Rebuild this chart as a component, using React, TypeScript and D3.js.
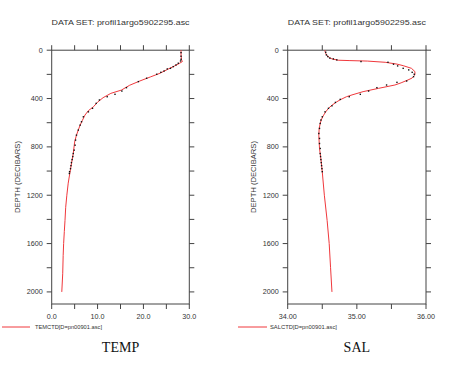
import React from "react";
import * as d3 from "d3";

// ---- data ----
const tempLineDepth = [0, 10, 40, 80, 94, 110, 136, 160, 191, 220, 255, 290, 330, 357, 393, 430, 468, 500, 537, 580, 620, 660, 703, 760, 855, 930, 1007, 1100, 1200, 1300, 1408, 1500, 1600, 1700, 1850, 2000];
const tempLineValue = [28.2, 28.2, 28.2, 28.3, 28.5, 27.8, 26.5, 25.2, 23.6, 21.6, 19.2, 17.0, 15.2, 12.9, 11.2, 10.0, 9.1, 8.0, 7.25, 6.7, 6.2, 5.8, 5.4, 5.0, 4.7, 4.35, 4.0, 3.6, 3.3, 3.05, 2.9, 2.75, 2.6, 2.5, 2.4, 2.2];
const tempObsDepth = [20, 50, 75, 89, 108, 122, 136, 150, 155, 172, 183, 199, 232, 260, 310, 338, 365, 385, 412, 440, 481, 510, 551, 592, 620, 661, 703, 744, 786, 827, 855, 880, 905, 930, 955, 980, 1005, 1020];
const tempObsValue = [28.2, 28.2, 28.2, 28.1, 27.6, 27.1, 26.5, 25.9, 25.2, 24.5, 23.8, 22.9, 20.7, 18.9, 16.3, 15.3, 13.8, 12.1, 10.4, 9.7, 8.9, 8.0, 6.9, 6.5, 6.2, 5.8, 5.4, 5.2, 5.1, 4.9, 4.7, 4.6, 4.45, 4.3, 4.2, 4.1, 3.9, 3.85];

const salLineDepth = [0, 12, 39, 60, 72, 83, 86, 90, 100, 115, 128, 150, 177, 200, 211, 230, 246, 270, 288, 316, 343, 370, 385, 410, 427, 455, 481, 510, 537, 570, 606, 650, 703, 760, 813, 900, 1007, 1200, 1408, 1600, 1800, 2000];
const salLineValue = [34.54, 34.54, 34.56, 34.6, 34.64, 34.73, 34.9, 35.15, 35.41, 35.58, 35.67, 35.79, 35.84, 35.84, 35.83, 35.8, 35.74, 35.64, 35.55, 35.31, 35.09, 34.93, 34.85, 34.76, 34.71, 34.64, 34.59, 34.55, 34.52, 34.49, 34.47, 34.455, 34.45, 34.455, 34.46, 34.48, 34.5, 34.53, 34.57, 34.6, 34.62, 34.64];
const salObsDepth = [17, 39, 53, 66, 72, 80, 94, 100, 116, 130, 150, 163, 183, 199, 219, 255, 266, 288, 310, 338, 365, 385, 407, 432, 460, 481, 510, 551, 578, 606, 647, 689, 730, 772, 813, 855, 880, 905, 930, 955, 980, 1005];
const salObsValue = [34.55, 34.56, 34.58, 34.61, 34.66, 34.71, 35.06, 35.45, 35.53, 35.59, 35.67, 35.75, 35.8, 35.83, 35.82, 35.72, 35.58, 35.43, 35.29, 35.17, 35.05, 34.89, 34.76, 34.69, 34.64, 34.59, 34.54, 34.5, 34.48, 34.47, 34.46, 34.45, 34.46, 34.46, 34.47, 34.47, 34.475, 34.48, 34.485, 34.49, 34.495, 34.5];

const depthTicks = [0, 400, 800, 1200, 1600, 2000];
const depthMinorTicks = [0, 200, 400, 600, 800, 1000, 1200, 1400, 1600, 1800, 2000];
const tempTicks = [0, 5, 10, 15, 20, 25, 30];
const tempLabels = [0, 10, 20, 30];
const salTicks = [34, 34.5, 35, 35.5, 36];
const salLabels = [34, 35, 36];

const AX = "#444";
const TXT = "#333";
const RED = "#f0383c";
const FONT = "'Liberation Sans', Arial, sans-serif";

type PanelProps = {
  x0: number; x1: number;
  domain: [number, number];
  ticks: number[]; labels: number[]; fmt: (v: number) => string;
  lineD: number[]; lineV: number[]; obsD: number[]; obsV: number[];
  legend: string; name: string; legendX0: number; legendX1: number; legendTextX: number;
};

function Panel(p: PanelProps) {
  const top = 50.2, bottom = 304;
  const y = d3.scaleLinear().domain([0, 2100]).range([top, bottom]);
  const x = d3.scaleLinear().domain(p.domain).range([p.x0, p.x1]);
  const line = d3.line<number>().x((_, i) => x(p.lineV[i])).y((d) => y(d));
  const cx = (p.x0 + p.x1) / 2;
  const tl = 5;
  return (
    <g>
      <text x={cx} y={25} textAnchor="middle" fontFamily={FONT} fontSize={7.5} fill={TXT} textLength={138} lengthAdjust="spacingAndGlyphs">DATA SET: profil1argo5902295.asc</text>
      <rect x={p.x0} y={top} width={p.x1 - p.x0} height={bottom - top} fill="none" stroke={AX} strokeWidth={1} />
      {p.ticks.map((t) => (
        <g key={"t" + t}>
          <line x1={x(t)} x2={x(t)} y1={top} y2={top - tl} stroke={AX} />
          <line x1={x(t)} x2={x(t)} y1={bottom} y2={bottom + tl} stroke={AX} />
        </g>
      ))}
      {p.labels.map((t) => (
        <text key={"l" + t} x={x(t)} y={318.5} textAnchor="middle" fontFamily={FONT} fontSize={7.2} fill={TXT}>{p.fmt(t)}</text>
      ))}
      {depthMinorTicks.map((d) => (
        <g key={"d" + d}>
          <line x1={p.x0} x2={p.x0 - tl} y1={y(d)} y2={y(d)} stroke={AX} />
          <line x1={p.x1} x2={p.x1 + tl} y1={y(d)} y2={y(d)} stroke={AX} />
        </g>
      ))}
      {depthTicks.map((d) => (
        <text key={"dl" + d} x={p.x0 - 9} y={y(d) + 2.5} textAnchor="end" fontFamily={FONT} fontSize={7.2} fill={TXT}>{d}</text>
      ))}
      <text transform={`translate(${p.x0 - 31.5},${177}) rotate(-90)`} textAnchor="middle" fontFamily={FONT} fontSize={7.2} fill={TXT} textLength={72} lengthAdjust="spacingAndGlyphs">DEPTH (DECIBARS)</text>
      <path d={line(p.lineD) || ""} fill="none" stroke={RED} strokeWidth={1} />
      {p.obsD.map((d, i) => (
        <rect key={"o" + i} x={x(p.obsV[i]) - 0.7} y={y(d) - 0.7} width={1.4} height={1.4} fill="#111" />
      ))}
      <line x1={p.legendX0} x2={p.legendX1} y1={327} y2={327} stroke={RED} strokeWidth={1} />
      <text x={p.legendTextX} y={329.3} fontFamily={FONT} fontSize={5.5} fill={TXT} textLength={67} lengthAdjust="spacingAndGlyphs">{p.legend}</text>
      <text x={cx} y={351.7} textAnchor="middle" fontFamily="'Liberation Serif', 'Times New Roman', serif" fontSize={14} fill="#111">{p.name}</text>
    </g>
  );
}

export default function App() {
  return (
    <svg width={450} height={366} style={{ position: "absolute", left: 0, top: 0, background: "#fff" }}>
      <rect width={450} height={366} fill="#fff" />
      <Panel x0={51.7} x1={189.3} domain={[0, 30]} ticks={tempTicks} labels={tempLabels} fmt={(v) => v.toFixed(1)}
        lineD={tempLineDepth} lineV={tempLineValue} obsD={tempObsDepth} obsV={tempObsValue}
        legend="TEMCTD[D=pn00901.asc]" name="TEMP" legendX0={2} legendX1={30} legendTextX={35} />
      <Panel x0={287.7} x1={426} domain={[34, 36]} ticks={salTicks} labels={salLabels} fmt={(v) => v.toFixed(2)}
        lineD={salLineDepth} lineV={salLineValue} obsD={salObsDepth} obsV={salObsValue}
        legend="SALCTD[D=pn00901.asc]" name="SAL" legendX0={238} legendX1={267} legendTextX={270} />
    </svg>
  );
}
